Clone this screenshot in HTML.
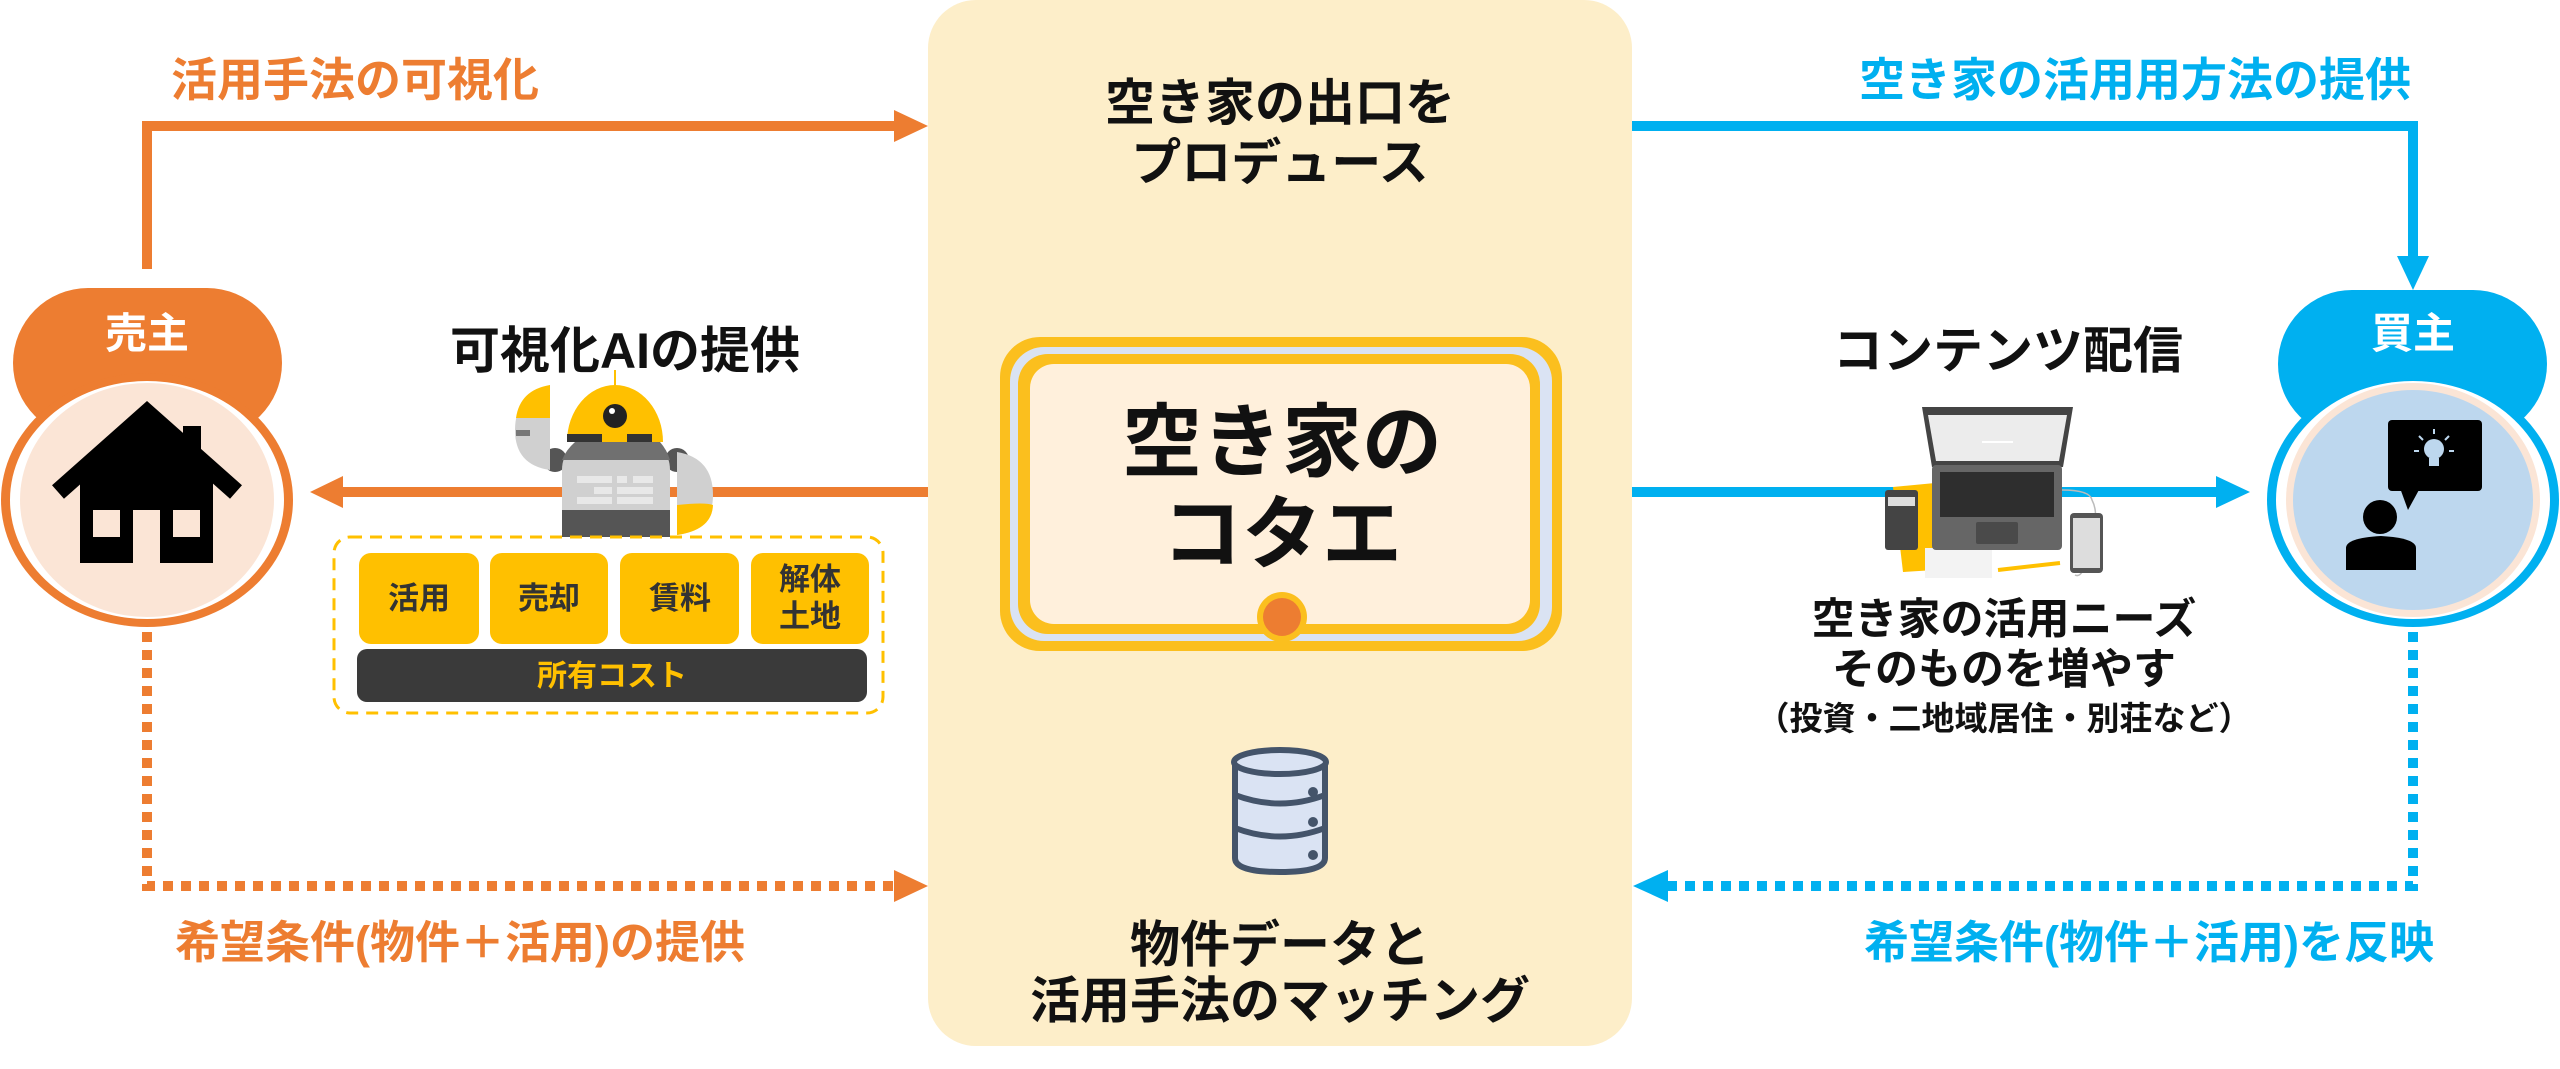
<!DOCTYPE html>
<html><head><meta charset="utf-8">
<style>
html,body{margin:0;padding:0;background:#fff;}
svg{display:block;}
text{font-family:"Liberation Sans","Noto Sans CJK JP",sans-serif;font-weight:bold;}
</style></head>
<body>
<svg width="2560" height="1069" viewBox="0 0 2560 1069" xmlns="http://www.w3.org/2000/svg">
<rect x="928" y="0" width="704" height="1046" rx="48" fill="#fdeec9"/>

<polyline points="147,269 147,126 900,126" fill="none" stroke="#ed7d31" stroke-width="10"/>
<polygon points="894,110 928,126 894,142" fill="#ed7d31"/>
<text x="171" y="96" font-size="46" fill="#ed7d31">活用手法の可視化</text>

<line x1="928" y1="492" x2="340" y2="492" stroke="#ed7d31" stroke-width="10"/>
<polygon points="343,476 310,492 343,508" fill="#ed7d31"/>

<polyline points="147,632 147,886 900,886" fill="none" stroke="#ed7d31" stroke-width="10" stroke-dasharray="10,8"/>
<polygon points="894,870 928,886 894,902" fill="#ed7d31"/>
<text x="175" y="958" font-size="45" fill="#ed7d31">希望条件(物件＋活用)の提供</text>

<rect x="13" y="288" width="269" height="150" rx="75" fill="#ed7d31"/>
<ellipse cx="147" cy="500" rx="146" ry="127" fill="#ed7d31"/>
<ellipse cx="147" cy="500" rx="137" ry="119" fill="#fff"/>
<ellipse cx="147" cy="500" rx="127" ry="117" fill="#fbe5d6"/>
<text x="147" y="348" font-size="42" fill="#fff" text-anchor="middle">売主</text>
<polyline points="58,492 147,413 236,492" fill="none" stroke="#000" stroke-width="18"/>
<rect x="183" y="426" width="18" height="34" fill="#000"/>
<polygon points="80,475 147,443 213,475 213,563 160,563 160,510 133,510 133,563 80,563" fill="#000"/>
<polygon points="80,475 147,420 213,475" fill="#000"/>
<rect x="93" y="510" width="27" height="27" fill="#fbe5d6"/>
<rect x="173" y="510" width="27" height="27" fill="#fbe5d6"/>

<text x="625" y="368" font-size="50" fill="#111" text-anchor="middle">可視化AIの提供</text>
<line x1="615" y1="370" x2="615" y2="386" stroke="#ffc000" stroke-width="2"/>
<path d="M567,442 A48,57 0 0 1 663,442 Z" fill="#ffc000"/>
<rect x="567" y="434" width="35" height="8" fill="#333"/>
<rect x="627" y="434" width="25" height="8" fill="#333"/>
<circle cx="615" cy="416" r="12" fill="#222"/>
<circle cx="612" cy="411" r="3" fill="#fff"/>
<circle cx="555" cy="460" r="12" fill="#555"/>
<circle cx="677" cy="460" r="12" fill="#555"/>
<path d="M562,470 Q562,442 600,442 L632,442 Q670,442 670,470 L670,537 L562,537 Z" fill="#d0d0d0"/>
<path d="M575,442 L660,442 Q667,450 670,460 L562,460 Q566,450 575,442 Z" fill="#707070"/>
<rect x="577" y="476" width="35" height="7" fill="#e8e8e8"/>
<rect x="617" y="476" width="10" height="7" fill="#e8e8e8"/>
<rect x="633" y="476" width="20" height="7" fill="#e8e8e8"/>
<rect x="594" y="487" width="18" height="7" fill="#e8e8e8"/>
<rect x="617" y="487" width="36" height="7" fill="#e8e8e8"/>
<rect x="577" y="497" width="35" height="7" fill="#e8e8e8"/>
<rect x="617" y="497" width="36" height="7" fill="#e8e8e8"/>
<rect x="562" y="510" width="108" height="27" fill="#555"/>
<path d="M550,470 L550,385 Q515,395 515,430 Q515,465 550,470 Z" fill="#d0d0d0"/>
<path d="M550,418 L550,385 Q520,390 516,418 Z" fill="#ffc000"/>
<rect x="516" y="430" width="14" height="6" fill="#777"/>
<path d="M677,452 L677,535 Q713,530 713,495 Q713,458 677,452 Z" fill="#d0d0d0"/>
<path d="M677,535 L677,505 Q705,502 713,505 Q712,530 677,535 Z" fill="#ffc000"/>

<rect x="334" y="537" width="549" height="176" rx="16" fill="#fff" stroke="#ffc000" stroke-width="3" stroke-dasharray="12,8"/>
<g font-size="31" fill="#333" text-anchor="middle">
<rect x="359" y="553" width="120" height="91" rx="12" fill="#ffc000"/>
<rect x="490" y="553" width="118" height="91" rx="12" fill="#ffc000"/>
<rect x="620" y="553" width="119" height="91" rx="12" fill="#ffc000"/>
<rect x="751" y="553" width="118" height="91" rx="12" fill="#ffc000"/>
<text x="419" y="609">活用</text>
<text x="549" y="609">売却</text>
<text x="680" y="609">賃料</text>
<text x="810" y="590">解体</text>
<text x="810" y="627">土地</text>
</g>
<rect x="357" y="649" width="510" height="53" rx="10" fill="#3a3a3a"/>
<text x="612" y="686" font-size="30" fill="#ffc000" text-anchor="middle">所有コスト</text>

<g font-size="50" fill="#111" text-anchor="middle">
<text x="1280" y="120">空き家の出口を</text>
<text x="1280" y="180">プロデュース</text>
<text x="1280" y="962">物件データと</text>
<text x="1280" y="1018">活用手法のマッチング</text>
</g>
<rect x="1000" y="337" width="562" height="314" rx="40" fill="#fbbf1e"/>
<rect x="1010" y="347" width="542" height="294" rx="34" fill="#dae3f3"/>
<rect x="1018" y="354" width="522" height="280" rx="30" fill="#fbbf1e"/>
<rect x="1030" y="364" width="500" height="260" rx="24" fill="#fff0dc"/>
<g font-size="80" fill="#111" text-anchor="middle">
<text x="1282" y="470">空き家の</text>
<text x="1282" y="562">コタエ</text>
</g>
<circle cx="1282" cy="617" r="25" fill="#fbbf1e"/>
<circle cx="1282" cy="617" r="19" fill="#ed7d31"/>
<g stroke="#44546a" stroke-width="6" fill="#dae3f3">
<path d="M1235,762 L1235,858 Q1235,872 1280,872 Q1325,872 1325,858 L1325,762"/>
<ellipse cx="1280" cy="762" rx="46" ry="12"/>
<path d="M1235,795 Q1280,812 1325,795" fill="none"/>
<path d="M1235,828 Q1280,845 1325,828" fill="none"/>
</g>
<g fill="#44546a"><circle cx="1313" cy="792" r="5"/><circle cx="1313" cy="822" r="5"/><circle cx="1313" cy="855" r="5"/></g>

<polyline points="1632,126 2413,126 2413,260" fill="none" stroke="#00b0f0" stroke-width="10"/>
<polygon points="2397,256 2413,290 2429,256" fill="#00b0f0"/>
<text x="2411" y="96" font-size="46" fill="#00b0f0" text-anchor="end">空き家の活用用方法の提供</text>

<line x1="1632" y1="492" x2="2220" y2="492" stroke="#00b0f0" stroke-width="10"/>
<polygon points="2216,476 2250,492 2216,508" fill="#00b0f0"/>

<polyline points="2413,632 2413,886 1665,886" fill="none" stroke="#00b0f0" stroke-width="10" stroke-dasharray="10,8"/>
<polygon points="1668,870 1633,886 1668,902" fill="#00b0f0"/>
<text x="1864" y="958" font-size="45" fill="#00b0f0">希望条件(物件＋活用)を反映</text>

<text x="2008" y="368" font-size="50" fill="#111" text-anchor="middle">コンテンツ配信</text>
<polygon points="1893,487 1935,483 1935,570 1903,572" fill="#ffc000"/>
<rect x="1925" y="548" width="67" height="30" fill="#f3f3f3"/>
<line x1="1998" y1="570" x2="2060" y2="563" stroke="#ffc000" stroke-width="4"/>
<path d="M1922,407 L2073,407 L2063,467 L1932,467 Z" fill="#444"/>
<path d="M1928,415 L2067,415 L2059,461 L1936,461 Z" fill="#ececec"/>
<line x1="1982" y1="442" x2="2013" y2="442" stroke="#fff" stroke-width="2"/>
<rect x="1932" y="465" width="130" height="85" rx="4" fill="#666"/>
<rect x="1940" y="472" width="114" height="45" fill="#2e2e2e"/>
<rect x="1976" y="522" width="42" height="22" rx="2" fill="#4a4a4a"/>
<rect x="1885" y="490" width="33" height="60" rx="3" fill="#444"/>
<rect x="1888" y="497" width="27" height="9" fill="#ddd"/>
<path d="M2062,490 Q2090,490 2092,500 Q2100,515 2090,540 Q2085,580 2075,575" fill="none" stroke="#bbb" stroke-width="1.5"/>
<rect x="2070" y="513" width="33" height="60" rx="4" fill="#555"/>
<rect x="2073" y="518" width="27" height="50" fill="#ddd"/>
<g font-size="43" fill="#111" text-anchor="middle">
<text x="2004" y="634">空き家の活用ニーズ</text>
<text x="2004" y="684">そのものを増やす</text>
</g>
<text x="2004" y="730" font-size="33" fill="#111" text-anchor="middle">（投資・二地域居住・別荘など）</text>

<rect x="2278" y="290" width="269" height="148" rx="74" fill="#00b0f0"/>
<ellipse cx="2413" cy="500" rx="146" ry="127" fill="#00b0f0"/>
<ellipse cx="2413" cy="500" rx="137" ry="119" fill="#fff"/>
<ellipse cx="2413" cy="500" rx="127" ry="117" fill="#fbe5d6"/>
<ellipse cx="2413" cy="500" rx="120" ry="110" fill="#bdd7ee"/>
<text x="2413" y="348" font-size="42" fill="#fff" text-anchor="middle">買主</text>
<rect x="2388" y="420" width="94" height="71" rx="4" fill="#000"/>
<polygon points="2400,488 2420,488 2408,510" fill="#000"/>
<circle cx="2434" cy="449" r="10" fill="#bdd7ee"/>
<rect x="2429" y="458" width="10" height="8" fill="#bdd7ee"/>
<g stroke="#bdd7ee" stroke-width="2"><line x1="2434" y1="429" x2="2434" y2="434"/><line x1="2414" y1="451" x2="2419" y2="451"/><line x1="2449" y1="451" x2="2454" y2="451"/><line x1="2419" y1="436" x2="2423" y2="440"/><line x1="2449" y1="436" x2="2445" y2="440"/></g>
<circle cx="2380" cy="517" r="17" fill="#000"/>
<path d="M2346,570 L2346,548 Q2346,538 2381,536 Q2416,538 2416,548 L2416,570 Z" fill="#000"/>
</svg>
</body></html>
